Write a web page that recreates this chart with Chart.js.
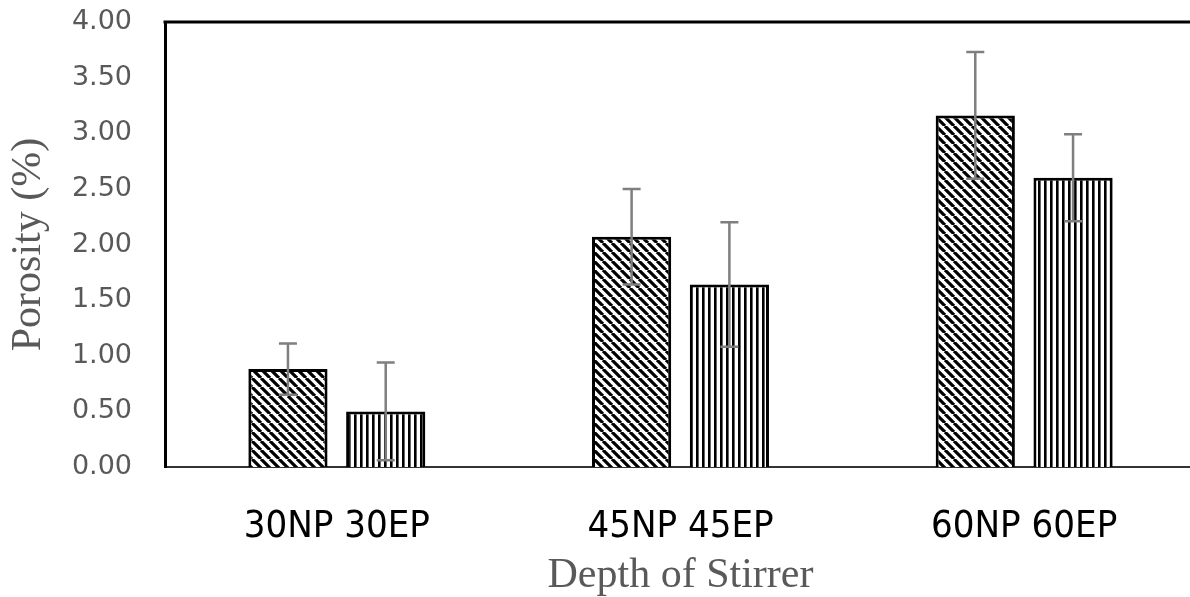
<!DOCTYPE html>
<html><head><meta charset="utf-8">
<script src="https://cdn.jsdelivr.net/npm/chart.js@4.4.0/dist/chart.umd.min.js"></script>
<style>html,body{margin:0;padding:0;overflow:hidden;background:#fff}</style>
</head><body>
<canvas id="c" width="1196" height="597" style="width:1196px;height:597px;display:block"></canvas>
<script>
const categories = ['30NP 30EP', '45NP 45EP', '60NP 60EP'];
const npValues = [0.88, 2.07, 3.16];
const npErrors = [0.23, 0.43, 0.57];
const epValues = [0.50, 1.64, 2.60];
const epErrors = [0.44, 0.56, 0.39];
const yMin = 0, yMax = 4, yStep = 0.5;
const yTitle = 'Porosity (%)';
const xTitle = 'Depth of Stirrer';

function diagPattern() {
  const s = 9, c = document.createElement('canvas');
  c.width = s; c.height = s;
  const g = c.getContext('2d');
  g.fillStyle = '#fff'; g.fillRect(0, 0, s, s);
  g.strokeStyle = '#000'; g.lineWidth = 3.2;
  g.beginPath();
  for (const k of [-s, 0, s]) { g.moveTo(k, 0); g.lineTo(k + s, s); }
  g.stroke();
  return g.createPattern(c, 'repeat');
}
function vertPattern() {
  const s = 6, c = document.createElement('canvas');
  c.width = s; c.height = s;
  const g = c.getContext('2d');
  g.fillStyle = '#fff'; g.fillRect(0, 0, s, s);
  g.fillStyle = '#000'; g.fillRect(0, 0, 2.6, s);
  return g.createPattern(c, 'repeat');
}

const errorBars = {
  id: 'errorBars',
  afterDatasetsDraw(chart) {
    const ctx = chart.ctx, y = chart.scales.y;
    chart.data.datasets.forEach((ds, i) => {
      const meta = chart.getDatasetMeta(i);
      meta.data.forEach((bar, j) => {
        const v = ds.data[j], e = ds.errors[j];
        const x = bar.x, yt = y.getPixelForValue(v + e), yb = y.getPixelForValue(v - e);
        ctx.save();
        ctx.strokeStyle = '#7f7f7f'; ctx.lineWidth = 2.5;
        ctx.beginPath();
        ctx.moveTo(x, yt); ctx.lineTo(x, yb);
        ctx.moveTo(x - 9, yt); ctx.lineTo(x + 9, yt);
        ctx.moveTo(x - 9, yb); ctx.lineTo(x + 9, yb);
        ctx.stroke();
        ctx.restore();
      });
    });
  }
};
const frame = {
  id: 'frame',
  beforeDraw(chart) {
    const ctx = chart.ctx;
    ctx.save(); ctx.fillStyle = '#fff'; ctx.fillRect(0, 0, chart.width, chart.height); ctx.restore();
  },
  afterDraw(chart) {
    const a = chart.chartArea, ctx = chart.ctx;
    ctx.save();
    ctx.strokeStyle = '#000'; ctx.lineWidth = 3;
    ctx.beginPath(); ctx.moveTo(a.left - 1.5, a.top); ctx.lineTo(a.right, a.top); ctx.stroke();
    ctx.restore();
  }
};

new Chart(document.getElementById('c'), {
  type: 'bar',
  data: {
    labels: categories,
    datasets: [
      { label: 'NP', data: npValues, errors: npErrors, backgroundColor: diagPattern(), borderColor: '#000', borderWidth: 3 },
      { label: 'EP', data: epValues, errors: epErrors, backgroundColor: vertPattern(), borderColor: '#000', borderWidth: 3 }
    ]
  },
  options: {
    responsive: false,
    devicePixelRatio: 1,
    animation: false,
    layout: { padding: { top: 22, right: 0, bottom: 0, left: 0 } },
    datasets: { bar: { categoryPercentage: 0.569, barPercentage: 0.81 } },
    plugins: { legend: { display: false }, tooltip: { enabled: false } },
    scales: {
      x: {
        grid: { display: false, drawTicks: false },
        border: { display: true, color: '#333', width: 2 },
        ticks: { color: '#000', padding: 37, font: { family: '"DejaVu Sans Condensed", "DejaVu Sans", sans-serif', size: 38 } },
        title: { display: true, text: xTitle, color: '#595959', padding: { top: 0, bottom: 0 }, font: { family: '"Liberation Serif", serif', size: 42, lineHeight: 1 } },
        afterFit(s) { s.height = 130; s.paddingLeft = 0; s.paddingRight = 0; }
      },
      y: {
        min: yMin, max: yMax,
        grid: { display: false, drawTicks: false },
        border: { display: true, color: '#000', width: 3 },
        ticks: { stepSize: yStep, color: '#595959', padding: 33, font: { family: '"DejaVu Sans", sans-serif', size: 27 }, callback: v => Number(v).toFixed(2) },
        title: { display: true, text: yTitle, color: '#595959', padding: { top: 8, bottom: 0 }, font: { family: '"Liberation Serif", serif', size: 42, lineHeight: 1 } },
        afterFit(s) { s.width = 165; s.paddingTop = 0; s.paddingBottom = 0; }
      }
    }
  },
  plugins: [errorBars, frame]
});
</script>
</body></html>
